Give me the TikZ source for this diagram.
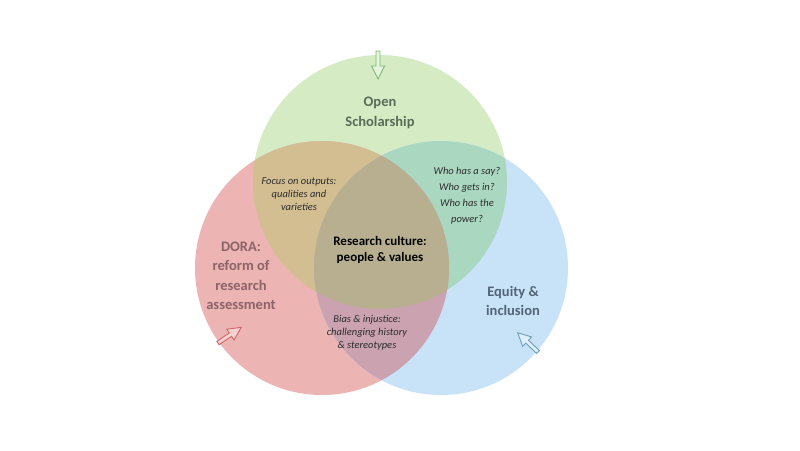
\documentclass[tikz,border=0pt]{standalone}
\usepackage{fontspec}
\setmainfont{Carlito}
\definecolor{cG}{RGB}{213,235,196}
\definecolor{cR}{RGB}{236,180,178}
\definecolor{cB}{RGB}{200,226,248}
\definecolor{cRG}{RGB}{210,190,145}
\definecolor{cGB}{RGB}{170,215,192}
\definecolor{cRB}{RGB}{202,162,176}
\definecolor{cRGB}{RGB}{184,175,145}
\definecolor{tG}{RGB}{88,108,88}
\definecolor{tR}{RGB}{140,100,104}
\definecolor{tB}{RGB}{82,100,118}
\definecolor{tI}{RGB}{45,45,45}
\definecolor{aG}{RGB}{125,185,115}
\definecolor{aR}{RGB}{205,105,105}
\definecolor{aB}{RGB}{110,160,190}
\tikzset{
  title/.style={font=\fontsize{14.5}{19.5}\selectfont\bfseries, align=center},
  itext/.style={font=\fontsize{10.5}{13}\selectfont\itshape, text=tI, align=center},
  ctext/.style={font=\fontsize{13}{16}\selectfont\bfseries, text=black, align=center},
  blockarrow/.style={line width=0.9pt, line join=miter}
}
\newcommand{\arrowshape}{(0,-2) -- (15,-2) -- (15,-6.5) -- (28,0) -- (15,6.5) -- (15,2) -- (0,2) -- cycle}
\begin{document}
\begin{tikzpicture}[x=1pt,y=-1pt]
\useasboundingbox (0,0) rectangle (800,450);
\fill[white] (0,0) rectangle (800,450);
\coordinate (cg) at (380,182);
\coordinate (cr) at (322,268);
\coordinate (cb) at (441,268);
\def\rad{127}
% single circles
\fill[cG] (cg) circle (\rad);
\fill[cR] (cr) circle (\rad);
\fill[cB] (cb) circle (\rad);
% pairwise
\begin{scope}\clip (cg) circle (\rad); \fill[cRG] (cr) circle (\rad); \end{scope}
\begin{scope}\clip (cg) circle (\rad); \fill[cGB] (cb) circle (\rad); \end{scope}
\begin{scope}\clip (cr) circle (\rad); \fill[cRB] (cb) circle (\rad); \end{scope}
% triple
\begin{scope}\clip (cg) circle (\rad); \clip (cr) circle (\rad); \fill[cRGB] (cb) circle (\rad); \end{scope}
% arrows
\begin{scope}[shift={(378,51)}, rotate=-90]
  \filldraw[blockarrow, draw=aG, fill=cG!60!white] \arrowshape;
\end{scope}
\begin{scope}[shift={(218,343)}, rotate=34]
  \filldraw[blockarrow, draw=aR, fill=cR!60!white] \arrowshape;
\end{scope}
\begin{scope}[shift={(538,352)}, rotate=136.5]
  \filldraw[blockarrow, draw=aB, fill=cB!60!white] \arrowshape;
\end{scope}
% texts
\node[title, text=tG] (open) at (380,113) {Open\\Scholarship};
\node[title, text=tR] (dora) at (241,276) {DORA:\\reform of\\research\\assessment};
\node[title, text=tB] (equity) at (513,301) {Equity \&\\inclusion};
\node[itext] (focus) at (299,194) {Focus on outputs:\\qualities and\\varieties};
\node[itext, font=\fontsize{10.5}{16}\selectfont\itshape] (who) at (467,195.5) {Who has a say?\\Who gets in?\\Who has the\\power?};
\node[ctext] (center) at (380,250) {Research culture:\\people \& values};
\node[itext] (bias) at (367,333) {Bias \& injustice:\\challenging history\\\& stereotypes};
\end{tikzpicture}
\end{document}
